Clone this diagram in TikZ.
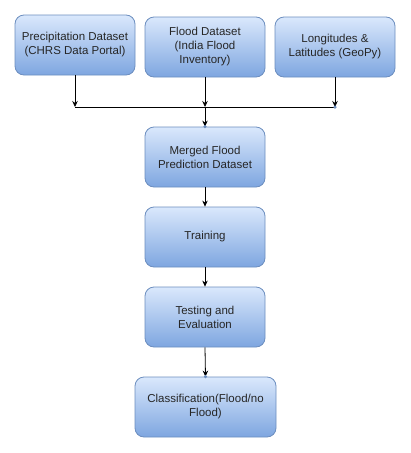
\documentclass[tikz,border=0pt]{standalone}
\usepackage{fontspec}
\setmainfont{Liberation Sans}
\usetikzlibrary{arrows.meta}
\definecolor{boxtop}{HTML}{DAE8FC}
\definecolor{boxbot}{HTML}{7EA6E0}
\definecolor{boxline}{HTML}{6C8EBF}
\tikzset{
  flowbox/.style={draw=boxline, line width=0.8pt, rounded corners=9pt, top color=boxtop, bottom color=boxbot, minimum height=60pt, align=center, inner sep=2pt, font=\fontsize{11.5}{14}\selectfont, text=black!85},
  arr/.style={-{Stealth[length=6pt,width=5.5pt]}, line width=0.8pt},
  ln/.style={line width=0.8pt},
  pt/.style={circle, fill=boxline, inner sep=0pt, minimum size=3.5pt}
}
\begin{document}
\begin{tikzpicture}[x=1pt,y=-1pt]
\useasboundingbox (0,0) rectangle (411,453);
\node[flowbox, minimum width=120pt] (p) at (75,45) {Precipitation Dataset\\(CHRS Data Portal)};
\node[flowbox, minimum width=120pt] (f) at (205,47) {Flood Dataset\\(India Flood\\Inventory)};
\node[flowbox, minimum width=120pt] (l) at (335,47) {Longitudes \&\\Latitudes (GeoPy)};
\coordinate (jl) at (75,107);
\coordinate (jm) at (205,107);
\coordinate (jr) at (335,107);
\draw[ln] (jl) -- (jr);
\draw[arr] (p.south) -- (jl);
\draw[arr] (f.south) -- (jm);
\draw[arr] (l.south) -- (jr);
\node[flowbox, minimum width=120pt] (m) at (205,157) {Merged Flood\\Prediction Dataset};
\node[flowbox, minimum width=120pt] (t) at (205,237) {Training};
\node[flowbox, minimum width=120pt] (e) at (205,317) {Testing and\\Evaluation};
\node[flowbox, minimum width=141pt] (c) at (205.5,407) {Classification(Flood/no\\Flood)};
\draw[arr] (jm) -- (m.north);
\draw[arr] (m.south) -- (t.north);
\draw[arr] (t.south) -- (e.north);
\draw[arr] (e.south) -- (c.north);
\node[pt] (d1) at (jr) {};
\node[pt] (d2) at (m.north) {};
\node[pt] (d3) at (c.north) {};
\end{tikzpicture}
\end{document}
